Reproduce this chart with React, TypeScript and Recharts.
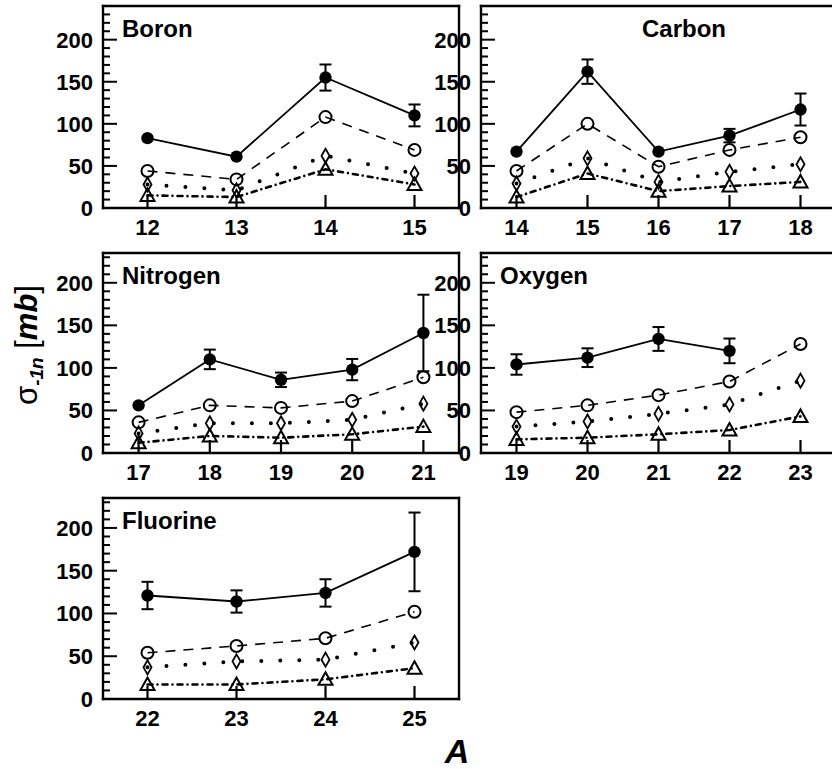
import { Line, LineChart, XAxis, YAxis, ErrorBar } from "recharts";

const FONT = "'Liberation Sans', Arial, Helvetica, sans-serif";

// values, one array per series
const boronA = [12, 13, 14, 15];
const boronFilled = [83, 61, 155, 110];
const boronErr = [0, 0, 15.5, 13];
const boronOpen = [44, 34, 108, 69];
const boronDiamond = [28, 21, 62, 41];
const boronTriangle = [15, 13, 46, 28];

const carbonA = [14, 15, 16, 17, 18];
const carbonFilled = [67, 162, 67, 86, 117];
const carbonErr = [0, 14.5, 0, 8, 19];
const carbonOpen = [44, 100, 49, 69, 84];
const carbonDiamond = [29, 59, 31, 43, 52];
const carbonTriangle = [13, 41, 20, 26, 31];

const nitrogenA = [17, 18, 19, 20, 21];
const nitrogenFilled = [56, 110, 86, 98, 141];
const nitrogenErr = [0, 11.5, 8.5, 12.5, 45];
const nitrogenOpen = [36, 56, 53, 61, 89];
const nitrogenDiamond = [23, 35, 35, 39, 58];
const nitrogenTriangle = [12, 20, 18, 22, 31];

const oxygenA = [19, 20, 21, 22, 23];
const oxygenFilled = [104, 112, 134, 120, null];
const oxygenErr = [12, 11, 14, 14.5, 0];
const oxygenOpen = [48, 56, 68, 84, 128];
const oxygenDiamond = [31, 37, 46, 57, 85];
const oxygenTriangle = [16, 18, 22, 27, 43];

const fluorineA = [22, 23, 24, 25];
const fluorineFilled = [121, 114, 124, 172];
const fluorineErr = [16, 13, 16, 46];
const fluorineOpen = [54, 62, 71, 102];
const fluorineDiamond = [37, 44, 46, 66];
const fluorineTriangle = [17, 17, 23, 36];

type Frame = { x: number; y: number; w: number; h: number };

const rows = (
  a: number[],
  f: (number | null)[],
  e: number[],
  o: number[],
  d: number[],
  t: number[]
) => a.map((v, i) => ({ a: v, f: f[i], e: e[i], o: o[i], d: d[i], t: t[i] }));

const dotShape = (kind: string) => (p: any) => {
  const { cx, cy, index, value } = p;
  const k = `${kind}-${index}`;
  if (cx == null || cy == null || value == null) return <g key={k} />;
  if (kind === "filled") return <circle key={k} cx={cx} cy={cy} r={6.2} fill="#000" />;
  if (kind === "open")
    return <circle key={k} cx={cx} cy={cy} r={6} fill="none" stroke="#000" strokeWidth={2} />;
  if (kind === "diamond")
    return (
      <path
        key={k}
        d={`M${cx},${cy - 7}L${cx + 4},${cy}L${cx},${cy + 7}L${cx - 4},${cy}Z`}
        fill="none"
        stroke="#000"
        strokeWidth={1.8}
      />
    );
  return (
    <path
      key={k}
      d={`M${cx},${cy - 7}L${cx + 7},${cy + 5.5}L${cx - 7},${cy + 5.5}Z`}
      fill="none"
      stroke="#000"
      strokeWidth={2}
    />
  );
};

const YTick = (p: any) => {
  const { x, y, payload } = p;
  const v = payload.value;
  const major = v % 50 === 0;
  return (
    <g>
      <line x1={x} x2={x + (major ? 14 : 7)} y1={y} y2={y} stroke="#000" strokeWidth={2} />
      {major && (
        <text
          x={x - 10}
          y={y + 8}
          textAnchor="end"
          fontFamily={FONT}
          fontWeight="bold"
          fontSize={22}
          fill="#000"
        >
          {v}
        </text>
      )}
    </g>
  );
};

const XTick = (p: any) => {
  const { x, y, payload } = p;
  return (
    <g>
      <line x1={x} x2={x} y1={y} y2={y - 13} stroke="#000" strokeWidth={2.2} />
      <text
        x={x}
        y={y + 27}
        textAnchor="middle"
        fontFamily={FONT}
        fontWeight="bold"
        fontSize={22}
        fill="#000"
      >
        {payload.value}
      </text>
    </g>
  );
};

const frameLine = { stroke: "#000", strokeWidth: 2.4, strokeLinecap: "square" as const };

const padL = 80;
const padT = 10;
const padR = 10;
const padB = 40;

function Panel({
  frame,
  data,
  xDomain,
  yMax,
  title,
  titleX,
  titleAnchor,
}: {
  frame: Frame;
  data: any[];
  xDomain: [number, number];
  yMax: number;
  title: string;
  titleX: number;
  titleAnchor: "start" | "middle";
}) {
  const yTicks: number[] = [];
  for (let v = 0; v < yMax; v += 10) yTicks.push(v);
  const W = frame.w + padL + padR;
  const H = frame.h + padT + padB;
  return (
    <div style={{ position: "absolute", left: frame.x - padL, top: frame.y - padT, width: W, height: H }}>
      <LineChart
        width={W}
        height={H}
        data={data}
        margin={{ top: padT - 1, right: padR - 1, bottom: 0, left: 0 }}
      >
        <XAxis
          dataKey="a"
          type="number"
          domain={xDomain}
          ticks={data.map((r) => r.a)}
          interval={0}
          axisLine={frameLine}
          tickLine={false}
          tickSize={0}
          tickMargin={0}
          height={padB}
          tick={XTick}
        />
        <XAxis
          xAxisId="top"
          dataKey="a"
          orientation="top"
          type="number"
          domain={xDomain}
          height={1}
          tick={false}
          tickLine={false}
          axisLine={frameLine}
        />
        <YAxis
          type="number"
          domain={[0, yMax]}
          ticks={yTicks}
          interval={0}
          axisLine={frameLine}
          tickLine={false}
          tickSize={0}
          tickMargin={0}
          width={padL}
          tick={YTick}
        />
        <YAxis
          yAxisId="right"
          orientation="right"
          type="number"
          domain={[0, yMax]}
          width={1}
          tick={false}
          tickLine={false}
          axisLine={frameLine}
        />
        {/* carrier series so the top and right frame axes have a scale */}
        <Line
          xAxisId="top"
          yAxisId="right"
          dataKey="o"
          stroke="none"
          dot={false}
          isAnimationActive={false}
        />
        <Line
          dataKey="t"
          stroke="#000"
          strokeWidth={2.6}
          strokeDasharray="5 5 0 5"
          strokeLinecap="round"
          dot={dotShape("triangle")}
          isAnimationActive={false}
        />
        <Line
          dataKey="d"
          stroke="#000"
          strokeWidth={4}
          strokeDasharray="0 19"
          strokeLinecap="round"
          dot={dotShape("diamond")}
          isAnimationActive={false}
        />
        <Line
          dataKey="o"
          stroke="#000"
          strokeWidth={1.6}
          strokeDasharray="10 8"
          dot={dotShape("open")}
          isAnimationActive={false}
        />
        <Line
          dataKey="f"
          stroke="#000"
          strokeWidth={1.8}
          dot={dotShape("filled")}
          isAnimationActive={false}
        >
          <ErrorBar dataKey="e" width={6} stroke="#000" strokeWidth={2} direction="y" />
        </Line>
      </LineChart>
      <svg width={W} height={60} style={{ position: "absolute", left: 0, top: 0, pointerEvents: "none" }}>
        <text
          x={titleX - frame.x + padL}
          y={padT + 31}
          textAnchor={titleAnchor}
          fontFamily={FONT}
          fontWeight="bold"
          fontSize={24}
          fill="#000"
        >
          {title}
        </text>
      </svg>
    </div>
  );
}

export default function App() {
  return (
    <div
      style={{
        position: "absolute",
        left: 0,
        top: 0,
        width: 832,
        height: 769,
        overflow: "hidden",
        background: "#fff",
      }}
    >
      <svg width={832} height={769} style={{ position: "absolute", left: 0, top: 0 }}>
        <text
          transform="translate(37,345) rotate(-90)"
          textAnchor="middle"
          fontFamily={FONT}
          fontSize={31}
          fill="#000"
        >
          <tspan>σ</tspan>
          <tspan fontSize={19} fontStyle="italic" fontWeight="bold" dy={6}>
            -1n
          </tspan>
          <tspan dy={-6}>{"  ["}</tspan>
          <tspan fontStyle="italic" fontWeight="bold">
            mb
          </tspan>
          <tspan>]</tspan>
        </text>
        <text
          x={457}
          y={763}
          textAnchor="middle"
          fontFamily={FONT}
          fontSize={34}
          fontWeight="bold"
          fontStyle="italic"
          fill="#000"
        >
          A
        </text>
      </svg>
      <Panel
        frame={{ x: 103, y: 6, w: 356, h: 202 }}
        data={rows(boronA, boronFilled, boronErr, boronOpen, boronDiamond, boronTriangle)}
        xDomain={[11.5, 15.5]}
        yMax={240}
        title="Boron"
        titleX={122}
        titleAnchor="start"
      />
      <Panel
        frame={{ x: 481, y: 6, w: 355, h: 202 }}
        data={rows(carbonA, carbonFilled, carbonErr, carbonOpen, carbonDiamond, carbonTriangle)}
        xDomain={[13.5, 18.5]}
        yMax={240}
        title="Carbon"
        titleX={684}
        titleAnchor="middle"
      />
      <Panel
        frame={{ x: 103, y: 253, w: 356, h: 200 }}
        data={rows(
          nitrogenA,
          nitrogenFilled,
          nitrogenErr,
          nitrogenOpen,
          nitrogenDiamond,
          nitrogenTriangle
        )}
        xDomain={[16.5, 21.5]}
        yMax={235}
        title="Nitrogen"
        titleX={122}
        titleAnchor="start"
      />
      <Panel
        frame={{ x: 481, y: 253, w: 355, h: 200 }}
        data={rows(oxygenA, oxygenFilled, oxygenErr, oxygenOpen, oxygenDiamond, oxygenTriangle)}
        xDomain={[18.5, 23.5]}
        yMax={235}
        title="Oxygen"
        titleX={500}
        titleAnchor="start"
      />
      <Panel
        frame={{ x: 103, y: 498, w: 356, h: 201 }}
        data={rows(
          fluorineA,
          fluorineFilled,
          fluorineErr,
          fluorineOpen,
          fluorineDiamond,
          fluorineTriangle
        )}
        xDomain={[21.5, 25.5]}
        yMax={235}
        title="Fluorine"
        titleX={122}
        titleAnchor="start"
      />
    </div>
  );
}
